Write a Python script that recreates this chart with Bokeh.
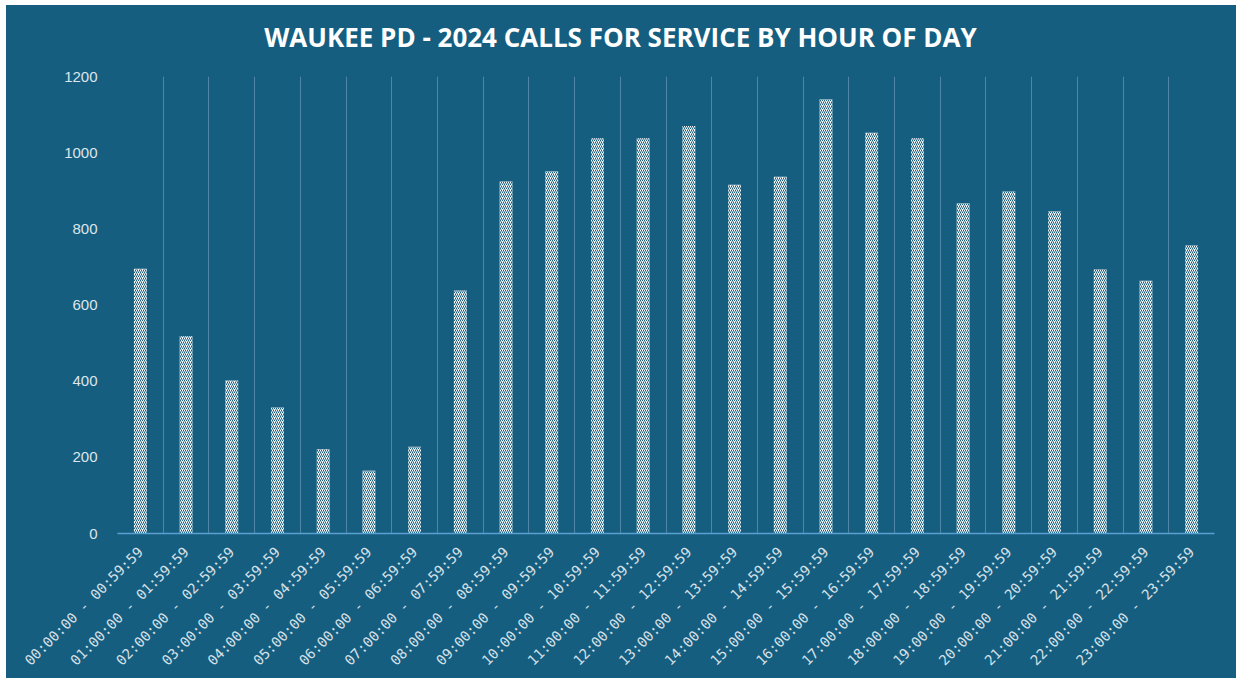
import math
from bokeh.plotting import figure
from bokeh.models import FactorRange, Range1d, FixedTicker, ColumnDataSource, Spacer, Grid
from bokeh.layouts import row, column
from bokeh.core.properties import value
from bokeh.embed import file_html
from bokeh.resources import INLINE

hour_labels = [
    "00:00:00 - 00:59:59", "01:00:00 - 01:59:59", "02:00:00 - 02:59:59",
    "03:00:00 - 03:59:59", "04:00:00 - 04:59:59", "05:00:00 - 05:59:59",
    "06:00:00 - 06:59:59", "07:00:00 - 07:59:59", "08:00:00 - 08:59:59",
    "09:00:00 - 09:59:59", "10:00:00 - 10:59:59", "11:00:00 - 11:59:59",
    "12:00:00 - 12:59:59", "13:00:00 - 13:59:59", "14:00:00 - 14:59:59",
    "15:00:00 - 15:59:59", "16:00:00 - 16:59:59", "17:00:00 - 17:59:59",
    "18:00:00 - 18:59:59", "19:00:00 - 19:59:59", "20:00:00 - 20:59:59",
    "21:00:00 - 21:59:59", "22:00:00 - 22:59:59", "23:00:00 - 23:59:59",
]
calls = [695, 518, 402, 331, 221, 165, 228, 638, 924, 951, 1038, 1038,
         1070, 916, 937, 1140, 1052, 1038, 867, 898, 846, 693, 664, 756]
y_ticks = [0, 200, 400, 600, 800, 1000, 1200]
title_text = "WAUKEE PD - 2024 CALLS FOR SERVICE BY HOUR OF DAY"

BG = "#165E80"
GRID = "#4F86A5"

# ---- title strip (frame aligned with the chart's frame) ----
t = figure(width=1230, height=60, x_range=Range1d(0, 1), y_range=Range1d(0, 1),
           output_backend="svg", toolbar_location=None,
           x_axis_location=None, y_axis_location=None,
           min_border_left=111, min_border_right=22,
           min_border_top=0, min_border_bottom=0)
t.background_fill_color = BG
t.border_fill_color = BG
t.outline_line_color = None
t.xgrid.grid_line_color = None
t.ygrid.grid_line_color = None
t.text(x=[0.4585], y=[0.483], text=[title_text], text_align="center",
       text_baseline="middle", text_font=value("Open Sans"),
       text_font_style="bold", text_font_size="26px", text_color="white")

# ---- main chart ----
source = ColumnDataSource(dict(hour=hour_labels, calls=calls))

p = figure(
    width=1230, height=613,
    x_range=FactorRange(factors=hour_labels, range_padding=0),
    y_range=Range1d(0, 1200),
    output_backend="svg", toolbar_location=None,
    min_border_left=111, min_border_right=22,
    min_border_top=11, min_border_bottom=145,
)
p.background_fill_color = BG
p.border_fill_color = BG
p.outline_line_color = None

p.vbar(x="hour", top="calls", width=0.28, source=source,
       fill_color="white", line_color=None,
       hatch_pattern="/", hatch_color=BG, hatch_alpha=1.0,
       hatch_scale=4, hatch_weight=1.0)

# grid lines at category boundaries
n = len(hour_labels)
p.xgrid.ticker = FixedTicker(ticks=list(range(n + 1)))
p.xgrid.grid_line_color = GRID
p.xgrid.grid_line_width = 1
p.ygrid.grid_line_color = None
# edge lines (half-clipped by the frame, so drawn thicker)
p.add_layout(Grid(dimension=0, ticker=FixedTicker(ticks=[0, n]),
                  grid_line_color=GRID, grid_line_width=2))

# x axis
xa = p.xaxis[0]
xa.major_label_orientation = math.pi / 4
xa.major_label_text_font = "DejaVu Sans Mono"
xa.major_label_text_font_size = "14px"
xa.major_label_text_color = "#D6E1E8"
xa.major_label_standoff = 10
xa.major_tick_line_color = None
xa.minor_tick_line_color = None
xa.axis_line_color = "#5A9FD0"
xa.axis_line_width = 1.5

# y axis
ya = p.yaxis[0]
ya.ticker = FixedTicker(ticks=y_ticks)
ya.major_label_text_font = "Liberation Sans"
ya.major_label_text_font_size = "15px"
ya.major_label_text_color = "#DCE5EB"
ya.major_label_standoff = 14
ya.major_tick_line_color = None
ya.minor_tick_line_color = None
ya.axis_line_color = None

panel = column(t, p, styles={"background-color": BG})
layout = row(Spacer(width=6), column(Spacer(height=5), panel))

open("out.html", "w").write(file_html(layout, INLINE))
